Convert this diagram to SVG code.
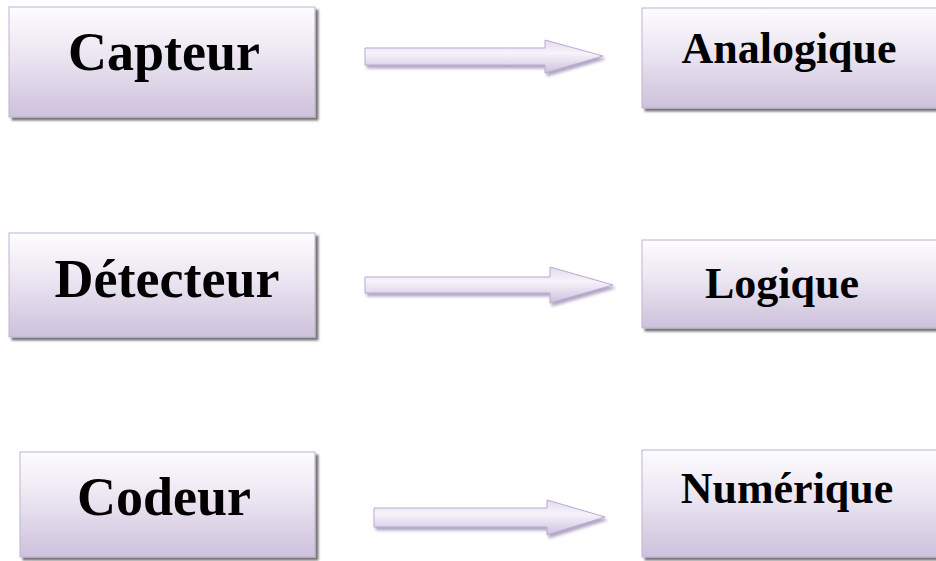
<svg xmlns="http://www.w3.org/2000/svg" width="936" height="561" viewBox="0 0 936 561">
  <defs>
    <linearGradient id="boxFill" x1="0" y1="0" x2="0" y2="1">
      <stop offset="0" stop-color="#fdfcfe"/>
      <stop offset="0.45" stop-color="#ebe5f1"/>
      <stop offset="1" stop-color="#cdc1dc"/>
    </linearGradient>
    <linearGradient id="arrowFill" x1="0" y1="0" x2="0" y2="1">
      <stop offset="0" stop-color="#e2daee"/>
      <stop offset="0.4" stop-color="#f6f3fa"/>
      <stop offset="1" stop-color="#cdc1de"/>
    </linearGradient>
    <filter id="shadow" x="-10%" y="-10%" width="130%" height="140%">
      <feGaussianBlur in="SourceAlpha" stdDeviation="1.2"/>
      <feOffset dx="3" dy="3" result="off"/>
      <feComponentTransfer>
        <feFuncA type="linear" slope="0.55"/>
      </feComponentTransfer>
      <feMerge>
        <feMergeNode/>
        <feMergeNode in="SourceGraphic"/>
      </feMerge>
    </filter>
    <filter id="arrowShadow" x="-10%" y="-30%" width="130%" height="180%">
      <feGaussianBlur in="SourceAlpha" stdDeviation="1.5"/>
      <feOffset dx="2" dy="3" result="off"/>
      <feFlood flood-color="#7d6a9c" flood-opacity="0.6"/>
      <feComposite in2="off" operator="in"/>
      <feMerge>
        <feMergeNode/>
        <feMergeNode in="SourceGraphic"/>
      </feMerge>
    </filter>
  </defs>
  <style>
    .box { fill: url(#boxFill); stroke: #bfb1d4; stroke-width: 1; filter: url(#shadow); }
    .arrow { fill: url(#arrowFill); stroke: #b9aacf; stroke-width: 1; filter: url(#arrowShadow); }
    .lbl { font-family: "Liberation Serif", "Times New Roman", serif; font-weight: bold; fill: #000; text-anchor: middle; }
  </style>

  <rect width="936" height="561" fill="#ffffff"/>

  <g id="capteur">
    <rect class="box" x="9" y="7" width="306" height="110"/>
    <text class="lbl" x="164" y="70" font-size="54">Capteur</text>
  </g>
  <g id="detecteur">
    <rect class="box" x="9" y="233" width="306" height="104"/>
    <text class="lbl" x="167" y="297" font-size="54">Détecteur</text>
  </g>
  <g id="codeur">
    <rect class="box" x="20" y="452" width="295" height="105"/>
    <text class="lbl" x="164" y="515" font-size="54">Codeur</text>
  </g>

  <g id="analogique">
    <rect class="box" x="642" y="8" width="310" height="100"/>
    <text class="lbl" x="789" y="63" font-size="44">Analogique</text>
  </g>
  <g id="logique">
    <rect class="box" x="642" y="240" width="310" height="88"/>
    <text class="lbl" x="782" y="298" font-size="44">Logique</text>
  </g>
  <g id="numerique">
    <rect class="box" x="642" y="450" width="310" height="107"/>
    <text class="lbl" x="787" y="503" font-size="44">Numérique</text>
  </g>

  <g id="connectors">
    <path class="arrow" d="M365,48 H545 V40 L603,56 L545,73 V65 H365 Z"/>
    <path class="arrow" d="M365,277 H550 V267 L613,285 L550,303 V293 H365 Z"/>
    <path class="arrow" d="M374,508 H547 V500 L605,517 L547,535 V527 H374 Z"/>
  </g>
</svg>
